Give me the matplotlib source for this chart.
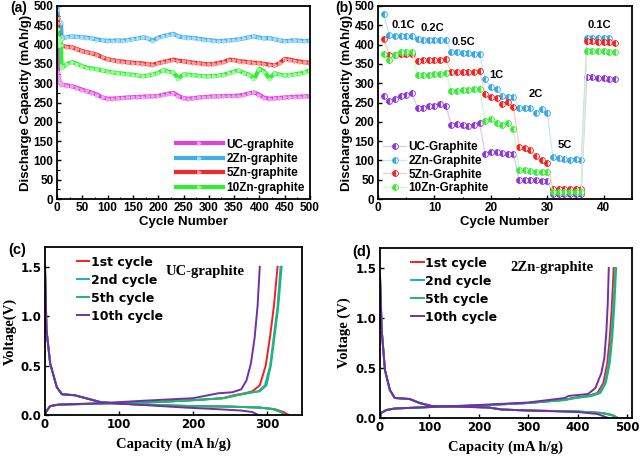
import matplotlib
matplotlib.use("Agg")
import matplotlib.pyplot as plt
from matplotlib.ticker import MultipleLocator

# ---------------- data ----------------
# (a) long cycling, discharge capacity (mAh/g)
cyc_a = [1, 2, 3, 4, 5, 6, 7, 8, 9, 10] + list(range(20, 501, 10))
uc_a = [470, 330, 318, 310, 305, 302, 300, 298, 297, 296,
        294, 292, 288, 283, 279, 275, 270, 263, 260,
        260, 261, 262, 263, 264, 264, 265, 266, 266, 267,
        270, 273, 275, 267, 261, 260, 261, 263, 264, 265,
        266, 266, 267, 267, 267, 268, 270, 274, 276, 270,
        262, 260, 261, 262, 263, 264, 265, 265, 266, 266]
zn2_a = [490, 470, 455, 460, 462, 460, 458, 455, 420, 415,
         420, 421, 420, 419, 418, 416, 413, 411, 410,
         410, 411, 410, 412, 414, 416, 419, 416, 410, 418,
         422, 425, 428, 421, 419, 418, 417, 415, 413, 412,
         410, 409, 410, 411, 412, 414, 416, 419, 421, 418,
         416, 417, 414, 411, 409, 410, 411, 410, 409, 410]
zn5_a = [470, 455, 420, 405, 400, 400, 399, 398, 398, 397,
         394, 393, 388, 383, 380, 377, 373, 367, 362,
         360, 357, 356, 354, 353, 352, 351, 349, 348, 352,
         355, 358, 361, 358, 357, 355, 353, 352, 350, 349,
         350, 353, 355, 361, 360, 357, 356, 354, 353, 352,
         350, 348, 346, 352, 363, 361, 358, 356, 354, 353]
zn10_a = [440, 420, 400, 410, 415, 410, 415, 400, 345, 340,
          350, 355, 350, 344, 340, 338, 336, 333, 330,
          328, 326, 325, 323, 322, 320, 318, 320, 323, 327,
          334, 330, 328, 312, 323, 322, 321, 319, 318, 318,
          319, 320, 322, 326, 330, 333, 326, 322, 312, 338,
          330, 312, 326, 322, 320, 321, 323, 325, 328, 334]
labels_a = ["UC-graphite", "2Zn-graphite", "5Zn-graphite", "10Zn-graphite"]

# (b) rate performance
cyc_b = list(range(1, 43))
uc_b = [268, 253, 260, 268, 270, 274, 237, 237, 240, 242, 245, 242,
        192, 195, 192, 190, 193, 196, 117, 123, 122, 119, 116, 116,
        49, 50, 49, 48, 47, 46, 12, 13, 13, 13, 13, 13,
        315, 315, 314, 313, 311, 311]
zn2_b = [480, 425, 423, 422, 422, 422, 415, 413, 413, 413, 413, 413,
         380, 380, 377, 377, 375, 375, 311, 289, 284, 266, 263, 264,
         236, 235, 235, 222, 232, 222, 108, 106, 103, 102, 103, 101,
         418, 418, 418, 418, 418]
zn5_b = [415, 373, 373, 375, 376, 376, 358, 360, 360, 361, 361, 362,
         328, 330, 328, 330, 328, 331, 271, 264, 262, 247, 251, 238,
         136, 133, 126, 112, 102, 93, 26, 26, 26, 26, 26, 26,
         410, 410, 408, 408, 407, 404]
zn10_b = [376, 360, 372, 380, 380, 382, 321, 322, 322, 324, 325, 327,
          279, 281, 282, 283, 284, 286, 203, 207, 198, 193, 197, 182,
          74, 74, 73, 71, 70, 69, 18, 18, 18, 18, 18, 18,
          384, 384, 383, 383, 382, 382]
labels_b = ["UC-Graphite", "2Zn-Graphite", "5Zn-Graphite", "10Zn-Graphite"]
rate_labels = ["0.1C", "0.2C", "0.5C", "1C", "2C", "5C", "0.1C"]
rate_pos = [(4.4, 450), (9.6, 444), (15.2, 408), (21, 320), (28, 271), (33, 139), (39.2, 450)]

# (c) UC-graphite voltage profiles (capacity mA h/g, voltage V)
c_dis_cap = {
    "1st": [0, 2, 7, 16, 23, 40, 55, 75, 100, 150, 200, 250, 290, 310, 322, 329],
    "2nd": [0, 2, 7, 16, 23, 40, 55, 75, 100, 150, 200, 250, 290, 308, 319, 325],
    "5th": [0, 2, 7, 16, 23, 40, 56, 76, 100, 150, 200, 250, 290, 307, 318, 324],
    "10th": [0, 2, 7, 16, 23, 40, 55, 75, 100, 135, 190, 230, 265, 280, 288],
}
c_dis_v = {
    "1st": [1.5, 0.86, 0.52, 0.28, 0.21, 0.2, 0.17, 0.13, 0.115, 0.1, 0.09, 0.085, 0.075, 0.06, 0.03, 0.0],
    "2nd": [1.5, 0.86, 0.52, 0.28, 0.21, 0.2, 0.17, 0.13, 0.115, 0.1, 0.09, 0.085, 0.075, 0.06, 0.03, 0.0],
    "5th": [1.5, 0.86, 0.52, 0.28, 0.21, 0.2, 0.17, 0.13, 0.115, 0.1, 0.09, 0.085, 0.075, 0.06, 0.03, 0.0],
    "10th": [1.5, 0.86, 0.52, 0.28, 0.21, 0.2, 0.17, 0.13, 0.115, 0.1, 0.075, 0.06, 0.045, 0.03, 0.0],
}
c_chg_cap = {
    "1st": [0, 2, 7, 18, 75, 150, 200, 240, 255, 270, 280, 290, 298, 304, 309, 314],
    "2nd": [0, 2, 7, 18, 75, 150, 200, 240, 258, 275, 288, 297, 304, 309, 314, 318],
    "5th": [0, 2, 7, 18, 75, 150, 200, 242, 260, 277, 290, 299, 305, 310, 315, 319.5],
    "10th": [0, 2, 7, 18, 75, 135, 200, 234, 253, 265, 272, 278, 283, 287, 290],
}
c_chg_v = {
    "1st": [0.0, 0.04, 0.09, 0.105, 0.115, 0.13, 0.15, 0.17, 0.2, 0.22, 0.24, 0.3, 0.5, 0.8, 1.1, 1.5],
    "2nd": [0.0, 0.04, 0.09, 0.105, 0.115, 0.13, 0.15, 0.17, 0.2, 0.225, 0.24, 0.3, 0.5, 0.8, 1.1, 1.5],
    "5th": [0.0, 0.04, 0.09, 0.105, 0.115, 0.13, 0.15, 0.17, 0.2, 0.225, 0.24, 0.3, 0.5, 0.8, 1.1, 1.5],
    "10th": [0.0, 0.04, 0.09, 0.105, 0.12, 0.145, 0.17, 0.22, 0.23, 0.26, 0.35, 0.52, 0.78, 1.1, 1.5],
}

# (d) 2Zn-graphite voltage profiles
d_dis_cap = {
    "1st": [0, 3.4, 10, 20, 30, 60, 80, 104, 150, 220, 246, 300, 400, 450, 470, 482],
    "2nd": [0, 3.4, 10, 20, 30, 60, 80, 104, 150, 220, 246, 300, 400, 448, 468, 480],
    "5th": [0, 3.4, 10, 20, 30, 60, 81, 105, 150, 220, 246, 300, 400, 449, 469, 481],
    "10th": [0, 3.4, 10, 20, 30, 60, 80, 104, 150, 220, 246, 300, 400, 440, 462],
}
d_dis_v = {
    "1st": [1.42, 0.88, 0.48, 0.28, 0.2, 0.19, 0.15, 0.12, 0.115, 0.105, 0.085, 0.075, 0.065, 0.05, 0.03, 0.0],
    "2nd": [1.42, 0.88, 0.48, 0.28, 0.2, 0.19, 0.15, 0.12, 0.115, 0.105, 0.085, 0.075, 0.065, 0.05, 0.03, 0.0],
    "5th": [1.42, 0.88, 0.48, 0.28, 0.2, 0.19, 0.15, 0.12, 0.115, 0.105, 0.085, 0.075, 0.065, 0.05, 0.03, 0.0],
    "10th": [1.42, 0.88, 0.48, 0.28, 0.2, 0.19, 0.15, 0.12, 0.115, 0.105, 0.085, 0.075, 0.06, 0.04, 0.0],
}
d_chg_cap = {
    "1st": [0, 2, 13, 30, 104, 200, 300, 370, 390, 420, 440, 452, 460, 465, 469, 473],
    "2nd": [0, 2, 13, 30, 104, 200, 300, 372, 393, 423, 443, 455, 463, 468, 472, 476],
    "5th": [0, 2, 13, 30, 104, 200, 300, 375, 396, 428, 446, 457, 465, 470, 474, 478],
    "10th": [0, 2, 13, 30, 104, 200, 300, 374, 381, 421, 436, 448, 454, 458, 461, 463],
}
d_chg_v = {
    "1st": [0.0, 0.05, 0.08, 0.095, 0.11, 0.125, 0.15, 0.18, 0.2, 0.22, 0.25, 0.35, 0.55, 0.8, 1.1, 1.5],
    "2nd": [0.0, 0.05, 0.08, 0.095, 0.11, 0.125, 0.15, 0.18, 0.2, 0.22, 0.25, 0.35, 0.55, 0.8, 1.1, 1.5],
    "5th": [0.0, 0.05, 0.08, 0.095, 0.11, 0.125, 0.15, 0.18, 0.2, 0.22, 0.25, 0.35, 0.55, 0.8, 1.1, 1.5],
    "10th": [0.0, 0.05, 0.08, 0.095, 0.11, 0.13, 0.155, 0.2, 0.22, 0.24, 0.3, 0.45, 0.6, 0.85, 1.15, 1.5],
}
cycle_labels = ["1st cycle", "2nd cycle", "5th cycle", "10th cycle"]

# ---------------- style ----------------
SANS = "Liberation Sans"
SERIF = "Liberation Serif"
cols_a = ["#d944d9", "#3cb0e8", "#f02828", "#30ee30"]
light_a = ["#f0a0f0", "#a8dcf6", "#f8a0a0", "#a0f8a0"]
cols_b = ["#8c35d8", "#35a8e8", "#f52020", "#33ee33"]
light_b = ["#e0c8f4", "#c8e8f8", "#fcc8c8", "#c8fcc8"]
cols_v = ["#ff1a1a", "#1aa8e0", "#1fb865", "#7030a8"]

fig = plt.figure(figsize=(6.4, 4.63), dpi=100)


def px_axes(l, r, t, b):
    return fig.add_axes([l / 640, 1 - b / 463, (r - l) / 640, (b - t) / 463])


def style_ticks(ax, size, family):
    ax.tick_params(direction="in", length=3, width=1.0, labelsize=size, pad=2.5)
    ax.tick_params(which="minor", direction="in", length=1.8, width=0.8)
    for lab in ax.get_xticklabels() + ax.get_yticklabels():
        lab.set_fontweight("bold")
        lab.set_family(family)
    for s in ax.spines.values():
        s.set_linewidth(1.3)


# ---- (a) ----
ax = px_axes(57, 310, 6, 199)
for ys, c, lc, lab in zip([uc_a, zn2_a, zn5_a, zn10_a], cols_a, light_a, labels_a):
    ax.plot(cyc_a, ys, color=c, lw=3.0, marker=">", ms=2.5, mfc=lc, mec=lc,
            label=lab)
ax.set_xlim(0, 500)
ax.set_ylim(0, 500)
ax.xaxis.set_major_locator(MultipleLocator(50))
ax.yaxis.set_major_locator(MultipleLocator(50))
ax.xaxis.set_minor_locator(MultipleLocator(25))
ax.yaxis.set_minor_locator(MultipleLocator(25))
style_ticks(ax, 8.5, SANS)
ax.set_xlabel("Cycle Number", fontsize=9.5, fontweight="bold", family=SANS, labelpad=1)
ax.set_ylabel("Discharge Capacity (mAh/g)", fontsize=9.5, fontweight="bold", family=SANS, labelpad=1)
ax.legend(loc="lower right", frameon=False, prop={"family": SANS, "weight": "bold", "size": 8.5},
          handlelength=4.0, handletextpad=0.3, labelspacing=0.2, borderaxespad=0.05, numpoints=1)
fig.text(10 / 640, 1 - 8 / 463, "(a)", fontsize=10, fontweight="bold", family=SANS, va="center")

# ---- (b) ----
ax = px_axes(378, 632, 6, 199)
for ys, c, lc, lab in zip([uc_b, zn2_b, zn5_b, zn10_b], cols_b, light_b, labels_b):
    ax.plot(cyc_b[:len(ys)], ys, color=lc, lw=0.9, marker="o", ms=4.2, mfc=c, mec=c,
            fillstyle="left", markerfacecoloralt="#f4f4f4", mew=0.6, label=lab)
ax.set_xlim(0, 45)
ax.set_ylim(0, 500)
ax.xaxis.set_major_locator(MultipleLocator(10))
ax.yaxis.set_major_locator(MultipleLocator(50))
ax.xaxis.set_minor_locator(MultipleLocator(5))
style_ticks(ax, 8.5, SANS)
for txt, (xx, yy) in zip(rate_labels, rate_pos):
    ax.text(xx, yy, txt, fontsize=8, fontweight="bold", family=SANS, ha="center", va="center")
ax.set_xlabel("Cycle Number", fontsize=9.5, fontweight="bold", family=SANS, labelpad=1)
ax.set_ylabel("Discharge Capacity (mAh/g)", fontsize=9.5, fontweight="bold", family=SANS, labelpad=1)
ax.legend(loc="lower left", frameon=False, prop={"family": SANS, "weight": "bold", "size": 8.5},
          handlelength=2.0, handletextpad=0.2, labelspacing=0.15, borderaxespad=0.0, numpoints=1)
fig.text(335 / 640, 1 - 8 / 463, "(b)", fontsize=10, fontweight="bold", family=SANS, va="center")


# ---- (c) and (d) ----
def voltage_panel(box, dis_cap, dis_v, chg_cap, chg_v, xmax, xstep, name, name_xy, ylab, tag, tag_xy):
    ax = px_axes(*box)
    for key, c, lab in zip(["1st", "2nd", "5th", "10th"], cols_v, cycle_labels):
        ax.plot(dis_cap[key], dis_v[key], color=c, lw=1.4)
        ax.plot(chg_cap[key], chg_v[key], color=c, lw=1.4, label=lab)
    ax.set_xlim(0, xmax)
    ax.set_ylim(0, 1.7)
    ax.xaxis.set_major_locator(MultipleLocator(xstep))
    ax.yaxis.set_major_locator(MultipleLocator(0.5))
    style_ticks(ax, 8.5, "DejaVu Sans")
    ax.set_xlabel("Capacity (mA h/g)", fontsize=10.5, fontweight="bold", family=SERIF, labelpad=4)
    ax.set_ylabel(ylab, fontsize=10.5, fontweight="bold", family=SERIF, labelpad=3)
    ax.text(name_xy[0], name_xy[1], name, fontsize=10.5, fontweight="bold", family=SERIF,
            ha="center", va="center")
    ax.legend(loc="upper left", bbox_to_anchor=(0.09, 1.0), frameon=False,
              prop={"family": "DejaVu Sans", "weight": "bold", "size": 9},
              handlelength=1.0, handletextpad=0.1, labelspacing=0.4, borderaxespad=0.3)
    fig.text(tag_xy[0] / 640, 1 - tag_xy[1] / 463, tag, fontsize=10.5, fontweight="bold",
             family=SANS, va="center")


voltage_panel((45, 302, 247, 415), c_dis_cap, c_dis_v, c_chg_cap, c_chg_v, 347, 100,
              "UC-graphite", (216, 1.455), "Voltage(V)", "(c)", (8, 250))
voltage_panel((380, 632, 248, 418), d_dis_cap, d_dis_v, d_chg_cap, d_chg_v, 510, 100,
              "2Zn-graphite", (347, 1.51), "Voltage (V)", "(d)", (352, 252))

fig.savefig("out.png", dpi=100)
